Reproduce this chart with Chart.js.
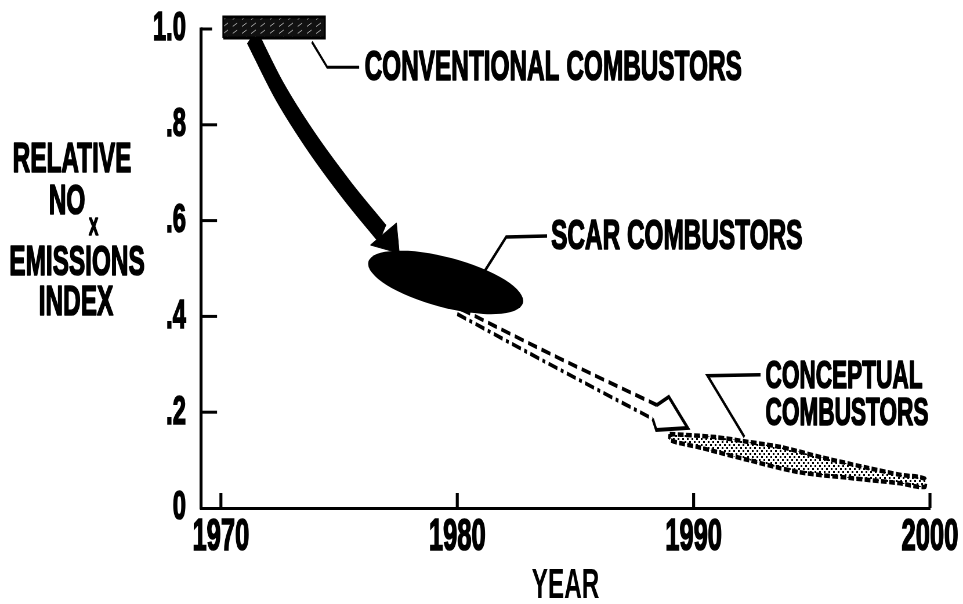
<!DOCTYPE html>
<html><head><meta charset="utf-8">
<script src="https://cdn.jsdelivr.net/npm/chart.js@4.4.1/dist/chart.umd.min.js"></script>
<style>html,body{margin:0;padding:0;background:#fff;overflow:hidden}canvas{display:block}</style>
</head><body>
<canvas id="c"></canvas>
<script>
// ---------------- data (year, relative NOx emissions index) ----------------
const xTickYears   = [1970, 1980, 1990, 2000];
const yTickValues  = [0, 0.2, 0.4, 0.6, 0.8, 1.0];
const yTickLabels  = ['0', '.2', '.4', '.6', '.8', '1.0'];
const yTitleLines  = ['RELATIVE', 'NO', 'EMISSIONS', 'INDEX'];
const yTitleSub    = 'X';
const xTitle       = 'YEAR';

const conventionalBox    = [[1970.1,0.981],[1974.4,0.981],[1974.4,1.025],[1970.1,1.025],[1970.1,0.981]];
const conventionalLeader = [[1973.85,0.973],[1974.5,0.92],[1975.85,0.92]];
const trendShaft         = [[1971.31,0.985],[1972.45,0.873],[1973.78,0.768],[1975.32,0.664],[1976.84,0.572]];
const trendHead          = [[1976.33,0.549],[1977.43,0.595],[1977.55,0.532],[1976.33,0.549]];
const scarAxisEnds       = [[1976.24,0.514],[1982.78,0.428]];
const scarLeader         = [[1981.14,0.493],[1982.07,0.566],[1983.8,0.568]];
const projUpper          = [[1980.17,0.415],[1984.30,0.313],[1988.44,0.215]];
const projLower          = [[1980.0,0.405],[1984.14,0.294],[1988.27,0.186]];
const projHead           = [[1988.44,0.215],[1988.95,0.232],[1989.75,0.167],[1988.42,0.163],[1988.27,0.186]];
const conceptUpper       = [[1988.99,0.1545],[1990.93,0.148],[1992.32,0.138],[1993.71,0.127],[1995.40,0.106],[1997.26,0.085],[1998.78,0.069],[1999.79,0.061]];
const conceptLower       = [[1999.79,0.044],[1998.65,0.052],[1996.54,0.063],[1994.43,0.075],[1992.32,0.100],[1990.21,0.127],[1988.99,0.142]];
const conceptLeader      = [[1992.15,0.148],[1990.59,0.276],[1992.83,0.278]];

const labelTexts   = ['CONVENTIONAL COMBUSTORS', 'SCAR COMBUSTORS', 'CONCEPTUAL', 'COMBUSTORS'];
const labelAnchors = [[1976.08,0.924],[1983.97,0.572],[1993.04,0.280],[1993.04,0.2025]];

// ---------------- styling ----------------
const S = 0.58;                 // horizontal condensing of the whole drawing
const W = 963, H = 604;
const FAMILY = "'Liberation Sans', Arial, sans-serif";
const labelSizes = [42, 42, 39, 39];
const SCAR_MINOR = 25;          // screen px, semi-minor axis of the scar ellipse
const AXIS_TOP = 29, AXIS_BOTTOM = 508, AXIS_LEFT = 201, AXIS_RIGHT = 932;

const canvas = document.getElementById('c');
canvas.width = Math.round(W / S); canvas.height = H;
canvas.style.width = W + 'px'; canvas.style.height = H + 'px';
const ctx0 = canvas.getContext('2d');

function makeHatch() {
  const c = document.createElement('canvas'); c.width = 16; c.height = 7;
  const g = c.getContext('2d');
  g.fillStyle = '#111'; g.fillRect(0, 0, 16, 7);
  g.strokeStyle = '#a8a8a8'; g.lineWidth = 1;
  g.beginPath(); g.moveTo(1, 5.5); g.lineTo(9, 2); g.stroke();
  return ctx0.createPattern(c, 'repeat');
}
function makeDots() {
  const c = document.createElement('canvas'); c.width = 8; c.height = 6;
  const g = c.getContext('2d');
  g.fillStyle = '#fff'; g.fillRect(0, 0, 8, 6);
  g.fillStyle = '#000'; g.fillRect(0, 0, 3, 2); g.fillRect(4, 3, 3, 2);
  return ctx0.createPattern(c, 'repeat');
}
const pts = a => a.map(([x, y]) => ({x, y}));
const base = {pointRadius: 0, pointHoverRadius: 0, clip: false, fill: false, tension: 0, borderColor: '#000', borderWidth: 3};

const datasets = [
  Object.assign({}, base, {label: 'Conventional combustors', data: pts(conventionalBox), fill: 'shape', backgroundColor: makeHatch(), borderColor: '#000', borderWidth: 3}),
  Object.assign({}, base, {label: 'trend head', data: pts(trendHead), fill: 'shape', backgroundColor: '#000', borderWidth: 1}),
  Object.assign({}, base, {label: 'trend', data: pts(trendShaft), borderWidth: 22, cubicInterpolationMode: 'monotone', borderCapStyle: 'butt'}),
  Object.assign({}, base, {label: 'conv leader', data: pts(conventionalLeader), borderWidth: 3}),
  Object.assign({}, base, {label: 'scar leader', data: pts(scarLeader), borderWidth: 3.5}),
  Object.assign({}, base, {label: 'projection upper', data: pts(projUpper), borderDash: [16, 8], borderWidth: 4, cubicInterpolationMode: 'monotone'}),
  Object.assign({}, base, {label: 'projection lower', data: pts(projLower), borderDash: [16, 6, 5, 6], borderWidth: 4, cubicInterpolationMode: 'monotone'}),
  Object.assign({}, base, {label: 'projection head', data: pts(projHead), borderWidth: 4}),
  Object.assign({}, base, {label: 'Conceptual combustors', data: pts(conceptUpper.concat(conceptLower, [conceptUpper[0]])), fill: 'shape', backgroundColor: makeDots(), borderDash: [10, 4], borderWidth: 4.5, tension: 0.3}),
  Object.assign({}, base, {label: 'concept leader', data: pts(conceptLeader), borderWidth: 3.5})
];

const overlay = {
  id: 'overlay',
  afterDatasetsDraw(chart) {
    const ctx = chart.ctx, xs = chart.scales.x, ys = chart.scales.y;
    const a = scarAxisEnds[0], b = scarAxisEnds[1];
    const x1 = xs.getPixelForValue(a[0]) * S, y1 = ys.getPixelForValue(a[1]);
    const x2 = xs.getPixelForValue(b[0]) * S, y2 = ys.getPixelForValue(b[1]);
    ctx.save();
    ctx.scale(1 / S, 1);
    ctx.beginPath();
    ctx.ellipse((x1 + x2) / 2, (y1 + y2) / 2, Math.hypot(x2 - x1, y2 - y1) / 2, SCAR_MINOR, Math.atan2(y2 - y1, x2 - x1), 0, Math.PI * 2);
    ctx.fillStyle = '#000'; ctx.fill();
    ctx.restore();
  },
  afterDraw(chart) {
    const ctx = chart.ctx, xs = chart.scales.x, ys = chart.scales.y, area = chart.chartArea;
    ctx.save();
    ctx.strokeStyle = '#000'; ctx.lineCap = 'butt';
    // y axis line from 0 to 1.0
    ctx.lineWidth = 3 / S;
    const yTop = ys.getPixelForValue(1), yBot = ys.getPixelForValue(0);
    ctx.beginPath(); ctx.moveTo(area.left, yTop - 1.5); ctx.lineTo(area.left, yBot + 1.5); ctx.stroke();
    // inward tick marks
    ctx.lineWidth = 3;
    yTickValues.forEach(v => {
      if (v === 0) return;
      const y = ys.getPixelForValue(v);
      const len = v === 1 ? 11 : 16;
      ctx.beginPath(); ctx.moveTo(area.left, y); ctx.lineTo(area.left + len / S, y); ctx.stroke();
    });
    ctx.lineWidth = 3 / S;
    xTickYears.forEach(v => {
      const x = xs.getPixelForValue(v);
      ctx.beginPath(); ctx.moveTo(x, yBot); ctx.lineTo(x, yBot - 15); ctx.stroke();
    });
    // annotation labels
    ctx.fillStyle = '#000'; ctx.textAlign = 'left'; ctx.textBaseline = 'alphabetic';
    ctx.lineWidth = 1.6; ctx.lineJoin = 'round';
    labelTexts.forEach((t, i) => {
      const f = labelSizes[i];
      ctx.font = `bold ${f}px ${FAMILY}`;
      const x = xs.getPixelForValue(labelAnchors[i][0]), y = ys.getPixelForValue(labelAnchors[i][1]) + 0.358 * f;
      ctx.fillText(t, x, y); ctx.strokeText(t, x, y);
    });
    // y-axis title (horizontal, stacked)
    ctx.textAlign = 'center';
    const yCenters = [157, 199, 260, 300], xCenters = [72, 67, 77, 76];
    ctx.font = `bold 42px ${FAMILY}`;
    yTitleLines.forEach((t, i) => { const x = xCenters[i] / S, y = yCenters[i] + 0.358 * 42; ctx.fillText(t, x, y); ctx.strokeText(t, x, y); });
    ctx.font = `bold 24px ${FAMILY}`;
    ctx.fillText(yTitleSub, 93.5 / S, 226.5 + 0.358 * 24); ctx.strokeText(yTitleSub, 93.5 / S, 226.5 + 0.358 * 24);
    ctx.restore();
  }
};

const tickFont = {family: FAMILY, weight: 'bold', lineHeight: 1};
const chart = new Chart(canvas, {
  type: 'line',
  data: {datasets},
  options: {
    responsive: false, animation: false, devicePixelRatio: 1,
    layout: {padding: {left: 0, top: AXIS_TOP - 0.03 * (AXIS_BOTTOM - AXIS_TOP), right: (W - AXIS_RIGHT) / S, bottom: 0}},
    plugins: {legend: {display: false}, tooltip: {enabled: false}},
    events: [],
    scales: {
      x: {
        type: 'linear', min: 1969.16, max: 2000,
        afterBuildTicks: s => { s.ticks = xTickYears.map(v => ({value: v})); },
        afterFit: s => { s.height = H - AXIS_BOTTOM; },
        grid: {display: false, drawTicks: false, tickLength: 0},
        border: {display: true, color: '#000', width: 3},
        ticks: {callback: v => String(v), color: '#000', padding: 8, maxRotation: 0, autoSkip: false,
                textStrokeColor: '#000', textStrokeWidth: 1.6,
                font: Object.assign({size: 44}, tickFont)},
        title: {display: true, text: xTitle, color: '#000', padding: {top: 0, bottom: -3},
                font: Object.assign({size: 42}, tickFont)}
      },
      y: {
        type: 'linear', min: 0, max: 1.03,
        afterBuildTicks: s => { s.ticks = yTickValues.map(v => ({value: v})); },
        afterFit: s => { s.width = AXIS_LEFT / S; s.paddingTop = 0; s.paddingBottom = 0; },
        grid: {display: false, drawTicks: false, tickLength: 0},
        border: {display: false},
        ticks: {callback: (v, i) => yTickLabels[i], color: '#000', padding: 26, autoSkip: false,
                textStrokeColor: '#000', textStrokeWidth: 1.6,
                font: Object.assign({size: 41}, tickFont)}
      }
    }
  },
  plugins: [overlay]
});
// nudge layout so that 1.0 sits at AXIS_TOP
for (let k = 0; k < 3; k++) {
  const dy = chart.scales.y.getPixelForValue(1) - AXIS_TOP;
  if (Math.abs(dy) < 0.5) break;
  chart.config.options.layout.padding.top -= dy;
  chart.update();
}
</script>
</body></html>
